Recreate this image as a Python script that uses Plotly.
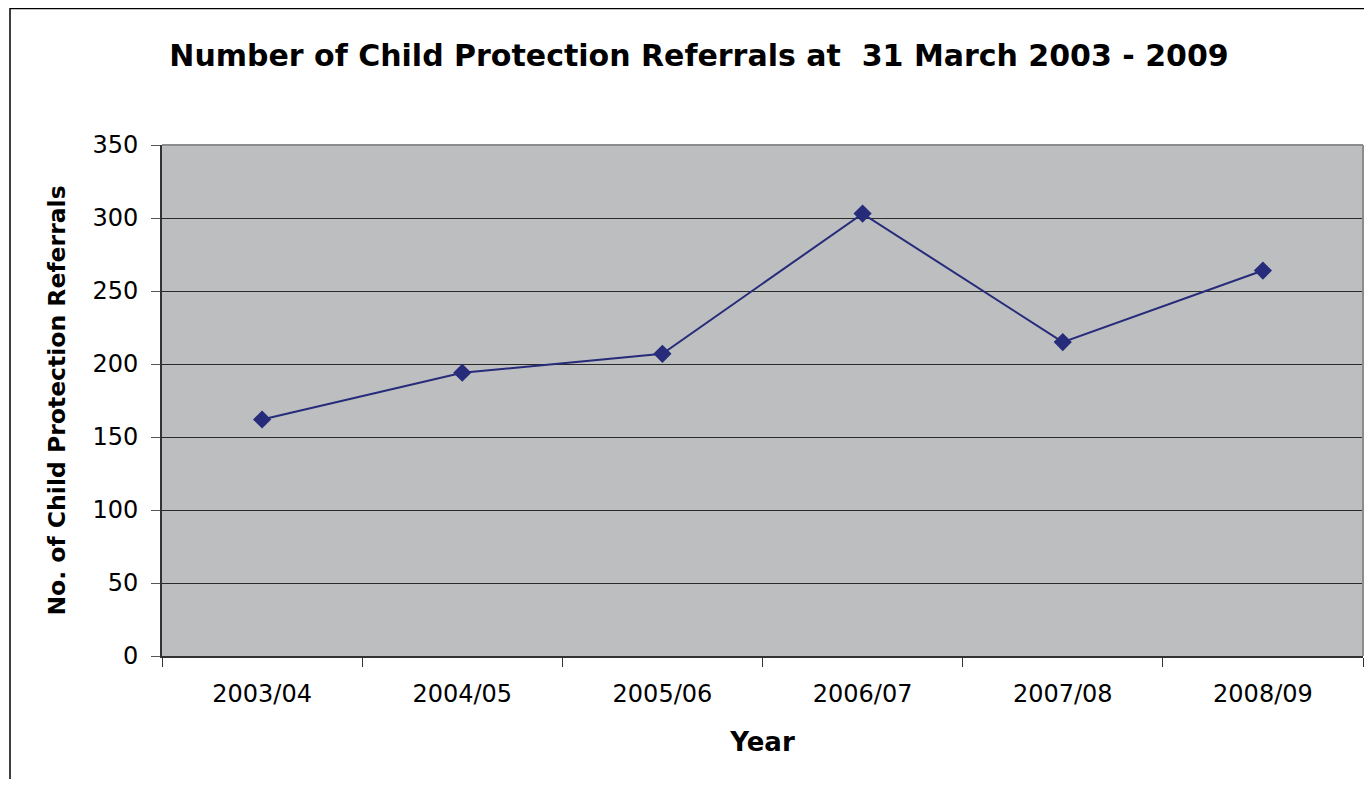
import plotly.graph_objects as go

years = ["2003/04", "2004/05", "2005/06", "2006/07", "2007/08", "2008/09"]
referrals = [162, 194, 207, 303, 215, 264]
y_ticks = [0, 50, 100, 150, 200, 250, 300, 350]

FONT = "DejaVu Sans, Liberation Sans, Arial, sans-serif"

fig = go.Figure()
fig.add_trace(go.Scatter(
    x=years, y=referrals, mode="lines+markers",
    line=dict(color="#262B7A", width=2),
    marker=dict(symbol="diamond", size=14, color="#262B7A"),
    showlegend=False,
))

# page body has an 8px margin; the figure is offset by (8, 8)
OFF = 8
W, H = 1372 - 2 * OFF, 787 - 2 * OFF
L, T = 162 - OFF, 145 - OFF
R = W - (1363 - OFF)
B = H - (656 - OFF)
pw, ph = W - L - R, H - T - B

def px_x(p):
    return (p - OFF - L) / pw

def px_y(p):
    return (H - B - (p - OFF)) / ph

fig.update_layout(
    width=W, height=H,
    margin=dict(l=L, r=R, t=T, b=B),
    paper_bgcolor="white",
    plot_bgcolor="#BDBEC0",
    font=dict(family=FONT, color="black"),
    title=dict(
        text="<b>Number of Child Protection Referrals at  31 March 2003 - 2009</b>",
        font=dict(size=30, family=FONT, color="black"),
        x=(699 - OFF) / W, xref="container", xanchor="center",
        y=1 - (55 - OFF) / H, yref="container", yanchor="middle",
    ),
    xaxis=dict(
        type="category",
        tickson="boundaries",
        ticks="outside", ticklen=9, tickcolor="#333333", tickwidth=1,
        showline=True, linecolor="#333333", linewidth=2,
        showgrid=False,
        ticklabelstandoff=15,
        tickfont=dict(size=24, family=FONT, color="black"),
        title=dict(text="<b>Year</b>", font=dict(size=26, family=FONT, color="black"), standoff=26),
        range=[-0.5, 5.5],
    ),
    yaxis=dict(
        range=[0, 350],
        tickvals=y_ticks,
        ticks="outside", ticklen=9, tickcolor="#555555", tickwidth=1,
        showline=True, linecolor="#333333", linewidth=2,
        showgrid=True, gridcolor="#2A2A2A", gridwidth=1,
        zeroline=False,
        ticklabelstandoff=8,
        tickfont=dict(size=24, family=FONT, color="black"),
        title=dict(text="<b>No. of Child Protection Referrals</b>", font=dict(size=23.5, family=FONT, color="black"), standoff=20),
    ),
)

# gray plot border top and right
fig.add_shape(type="line", xref="paper", yref="paper", x0=0, x1=1, y0=1, y1=1,
              line=dict(color="#8C8C8C", width=2))
fig.add_shape(type="line", xref="paper", yref="paper", x0=1, x1=1, y0=0, y1=1,
              line=dict(color="#8C8C8C", width=2))

# outer chart frame (extends beyond the visible area on right and bottom)
fig.add_shape(type="rect", xref="paper", yref="paper",
              x0=px_x(10), x1=px_x(1372 + 50), y0=px_y(8.5), y1=px_y(787 + 50),
              line=dict(color="black", width=1.5), fillcolor="rgba(0,0,0,0)", layer="below")

fig.write_html("out.html")
